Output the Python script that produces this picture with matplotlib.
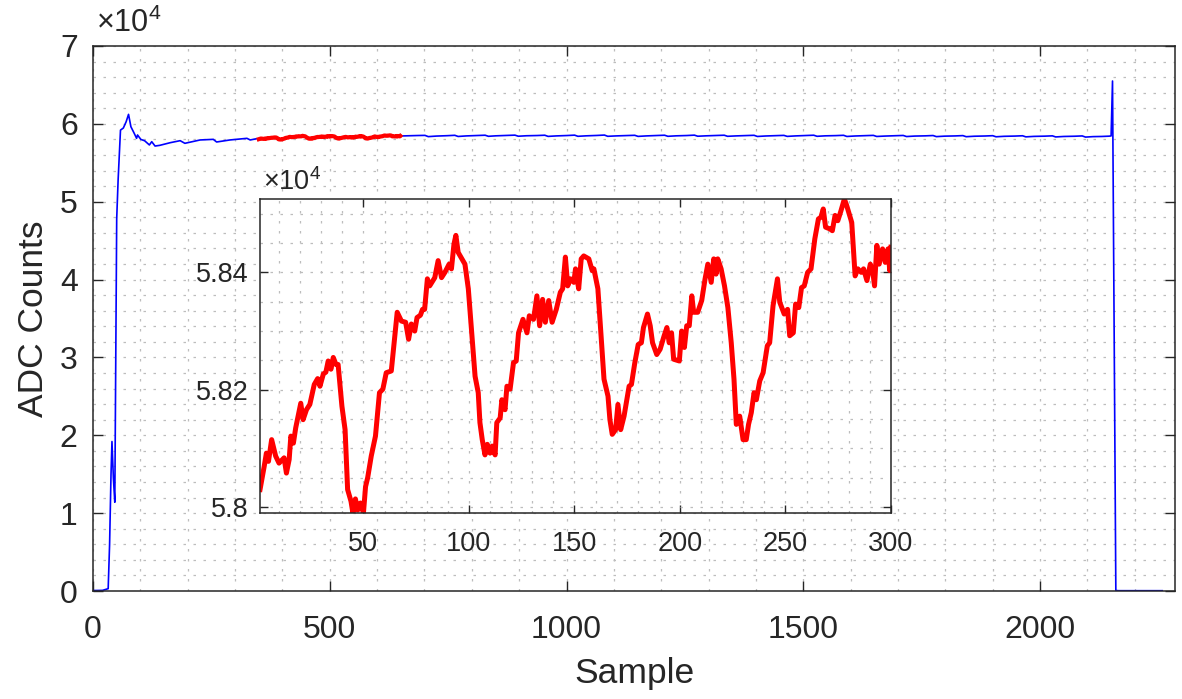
import matplotlib
matplotlib.use('Agg')
import matplotlib.pyplot as plt
from matplotlib.ticker import MultipleLocator, FuncFormatter

plt.rcParams['font.family'] = ['Liberation Sans', 'DejaVu Sans']
plt.rcParams['mathtext.fontset'] = 'custom'
plt.rcParams['mathtext.rm'] = 'Liberation Sans'
plt.rcParams['mathtext.it'] = 'Liberation Sans:italic'

# zoomed segment (inset), sample index 1..300, ADC counts
inset_sample = [1, 3, 4, 5, 6.5, 8.4, 10, 12.4, 13.5, 14.8, 15.6, 16.8, 17.9, 20.3, 21.4,
                23, 24.6, 26.7, 28.3, 29.4, 31, 32.2, 33.3, 34.6, 35.7, 37, 38, 39.8, 41.3,
                42.5, 44.1, 45, 46.2, 47.3, 48.6, 50, 51, 52, 53.7, 55.7, 57.6, 59.2, 60.8,
                63.2, 66, 68, 70, 71.4, 72.7, 74.3, 75.4, 77, 78, 79, 80.3, 81.4, 83.8, 85.4,
                87, 88.6, 90.6, 91.7, 92.9, 93.8, 94.9, 98.1, 99.7, 101.3, 102.9, 104.4,
                105.2, 106.3, 107.6, 108.7, 110, 111, 112.4, 113.2, 114.8, 115.6, 117.1, 118,
                119.5, 121.1, 122.4, 123.5, 125.6, 127.5, 128.6, 130.6, 132.2, 133.5, 134.9,
                136.2, 137.8, 139.4, 141.4, 143.3, 144.4, 145.7, 146.8, 148.1, 149.7, 150.5,
                152, 153.2, 154.4, 156.8, 158.4, 159.2, 161.1, 162.4, 164, 165.9, 166.8,
                167.9, 169.5, 170.6, 171.9, 173.5, 174.8, 175.9, 177, 178.6, 180.2, 181.7,
                182.7, 184.6, 185.9, 187, 189, 190.6, 192.5, 193.8, 194.9, 196, 197, 199.7,
                200.8, 202.1, 203.2, 204.4, 205.6, 206.5, 208.4, 210.3, 211.9, 213.2, 214.8,
                216, 217.1, 217.9, 219.5, 221.1, 222.7, 224.3, 225.6, 226.7, 228.3, 229.9,
                231.4, 232.5, 233.8, 235.1, 236.2, 237.8, 239.4, 241.4, 242.5, 244.1, 246.2,
                247.3, 249.4, 251, 252, 253.7, 254.8, 256.3, 257.6, 258.9, 260.5, 262.1,
                263.9, 265.6, 266.8, 267.9, 269, 271.1, 272.2, 273.5, 274.8, 276.3, 277.9,
                279, 281.4, 283, 284.3, 285.9, 287, 288.6, 290.2, 291.3, 292.2, 293.3, 294.4,
                296, 297.3, 298.6, 299.4, 300]
inset_counts = [58030, 58070, 58092, 58078, 58115, 58087, 58075, 58084, 58058, 58081, 58121,
                58109, 58135, 58177, 58149, 58166, 58175, 58209, 58219, 58206, 58227, 58230,
                58249, 58235, 58255, 58243, 58243, 58172, 58132, 58030, 58010, 57990, 58014,
                57995, 58007, 57990, 58035, 58050, 58087, 58121, 58195, 58201, 58229, 58232,
                58332, 58317, 58315, 58286, 58312, 58300, 58323, 58327, 58337, 58337, 58389,
                58377, 58391, 58420, 58391, 58400, 58414, 58406, 58448, 58463, 58434, 58414,
                58372, 58297, 58223, 58195, 58144, 58115, 58089, 58107, 58092, 58104, 58089,
                58144, 58152, 58183, 58166, 58206, 58201, 58246, 58249, 58297, 58320, 58297,
                58326, 58320, 58360, 58309, 58354, 58315, 58352, 58315, 58337, 58366, 58372,
                58426, 58377, 58389, 58383, 58406, 58372, 58423, 58428, 58423, 58403, 58406,
                58372, 58303, 58218, 58189, 58149, 58124, 58132, 58175, 58132, 58155, 58183,
                58206, 58209, 58246, 58277, 58280, 58306, 58329, 58309, 58280, 58260, 58269,
                58292, 58306, 58280, 58297, 58252, 58249, 58300, 58272, 58309, 58309, 58360,
                58332, 58332, 58352, 58389, 58414, 58383, 58423, 58397, 58423, 58406, 58377,
                58340, 58280, 58218, 58141, 58155, 58115, 58115, 58141, 58161, 58195, 58183,
                58215, 58229, 58275, 58280, 58343, 58389, 58349, 58329, 58337, 58292, 58297,
                58346, 58340, 58374, 58377, 58400, 58406, 58457, 58491, 58494, 58508, 58477,
                58474, 58471, 58497, 58488, 58505, 58525, 58514, 58485, 58394, 58406, 58400,
                58406, 58386, 58414, 58403, 58377, 58446, 58414, 58440, 58417, 58440, 58403,
                58443]
inset_offset = 349  # inset sample 1 is record sample 350

# full record, before and after the zoomed segment
head_sample = [1, 20, 32, 35, 38, 40, 43, 46, 48, 50, 53, 58, 64, 70, 75, 80, 87, 92, 94,
               101, 109, 119, 124, 131, 141, 163, 184, 194, 226, 254, 261, 289, 325, 332,
               346, 350]
head_counts = [60, 80, 300, 6000, 15000, 19200, 14500, 11400, 30000, 47800, 52800, 59200,
               59460, 60280, 61220, 59630, 58780, 58140, 58570, 58000, 57830, 57290, 57710,
               57150, 57240, 57580, 57840, 57500, 57930, 58010, 57670, 57930, 58140, 57930,
               58100, 58030]
tail_sample = [650, 665, 685, 701, 708, 725, 748, 764, 771, 788, 812, 828, 835, 850, 875,
               891, 898, 915, 938, 954, 961, 978, 1001, 1017, 1024, 1041, 1064, 1080, 1087,
               1104, 1128, 1144, 1151, 1168, 1191, 1207, 1214, 1231, 1254, 1270, 1277, 1294,
               1317, 1333, 1340, 1357, 1380, 1396, 1403, 1420, 1443, 1459, 1466, 1483, 1506,
               1522, 1529, 1546, 1569, 1585, 1592, 1609, 1632, 1648, 1655, 1672, 1695, 1711,
               1718, 1735, 1758, 1774, 1781, 1798, 1821, 1837, 1844, 1861, 1884, 1900, 1907,
               1924, 1947, 1963, 1970, 1987, 2010, 2026, 2033, 2050, 2073, 2089, 2096, 2112,
               2130, 2146, 2150, 2153, 2160, 2165, 2258]
tail_counts = [58443, 58470, 58500, 58520, 58360, 58430, 58480, 58530, 58380, 58450, 58500,
               58540, 58400, 58460, 58510, 58550, 58410, 58470, 58500, 58540, 58390, 58450,
               58500, 58550, 58400, 58460, 58510, 58560, 58400, 58450, 58490, 58530, 58390,
               58450, 58500, 58540, 58400, 58460, 58500, 58550, 58410, 58460, 58510, 58540,
               58400, 58450, 58490, 58530, 58380, 58440, 58480, 58520, 58390, 58450, 58500,
               58540, 58400, 58460, 58490, 58530, 58380, 58440, 58480, 58520, 58380, 58430,
               58470, 58510, 58370, 58430, 58460, 58500, 58360, 58420, 58450, 58490, 58350,
               58410, 58440, 58480, 58340, 58400, 58430, 58470, 58330, 58390, 58420, 58460,
               58320, 58380, 58410, 58450, 58300, 58360, 58380, 58420, 58450, 65500, 60,
               40, 40]

red_sample = [s + inset_offset for s in inset_sample]
main_sample = head_sample + red_sample + tail_sample
main_counts = head_counts + inset_counts + tail_counts

txt = '#262626'
grid_kw = dict(color='#bdbdbd', linestyle=(0, (2, 6)), linewidth=0.9)
exp_fmt = FuncFormatter(lambda v, p: f'{v / 1e4:g}')

fig = plt.figure(figsize=(11.82, 6.99), dpi=100)

ax = fig.add_axes([0.0787, 0.1545, 0.9154, 0.7797])
ax.plot(main_sample, main_counts, color='#0000ff', lw=1.2)
ax.plot(red_sample, inset_counts, color='#ff0000', lw=3)
ax.set_xlim(0, 2285)
ax.set_ylim(0, 70000)
ax.xaxis.set_major_locator(MultipleLocator(500))
ax.xaxis.set_minor_locator(MultipleLocator(100))
ax.yaxis.set_major_locator(MultipleLocator(10000))
ax.yaxis.set_minor_locator(MultipleLocator(2000))
ax.yaxis.set_major_formatter(exp_fmt)
ax.grid(which='both', **grid_kw)
ax.set_axisbelow(True)
ax.tick_params(which='major', direction='in', top=True, right=True, length=7.5,
               width=1, colors=txt, labelsize=23)
ax.tick_params(axis='x', pad=17)
ax.tick_params(axis='y', pad=11)
ax.tick_params(which='minor', length=0)
for s in ax.spines.values():
    s.set_color(txt)
    s.set_linewidth(1.1)
ax.set_xlabel('Sample', fontsize=25.5, color=txt, labelpad=9)
ax.set_ylabel('ADC Counts', fontsize=25.5, color=txt, labelpad=7)
ax.text(0.003, 1.012, r'$\times10^{4}$', transform=ax.transAxes, fontsize=22,
        color=txt, ha='left', va='bottom')

axin = fig.add_axes([0.2200, 0.2661, 0.5338, 0.4492])
axin.plot(inset_sample, inset_counts, color='#ff0000', lw=3.6)
axin.set_xlim(1, 300)
axin.set_ylim(57990, 58525)
axin.xaxis.set_major_locator(MultipleLocator(50))
axin.xaxis.set_minor_locator(MultipleLocator(10))
axin.yaxis.set_major_locator(MultipleLocator(200))
axin.yaxis.set_minor_locator(MultipleLocator(50))
axin.yaxis.set_major_formatter(exp_fmt)
axin.grid(which='both', **grid_kw)
axin.set_axisbelow(True)
axin.tick_params(which='major', direction='in', top=True, right=True, length=6,
                 width=1, colors=txt, labelsize=19.5)
axin.tick_params(axis='x', pad=13)
axin.tick_params(axis='y', pad=8)
axin.tick_params(which='minor', length=0)
for s in axin.spines.values():
    s.set_color(txt)
    s.set_linewidth(1.1)
axin.text(0.004, 1.01, r'$\times10^{4}$', transform=axin.transAxes, fontsize=19.5,
          color=txt, ha='left', va='bottom')

fig.savefig('out.png', dpi=100)
